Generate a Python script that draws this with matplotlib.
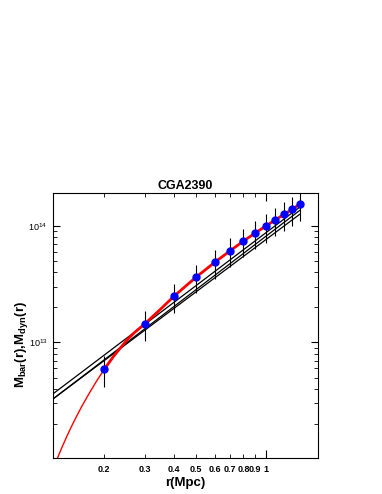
import numpy as np
import matplotlib
matplotlib.use("Agg")
import matplotlib.pyplot as plt

plt.rcParams['font.family'] = ['Liberation Sans', 'DejaVu Sans']
plt.rcParams['mathtext.fontset'] = 'custom'
plt.rcParams['mathtext.rm'] = 'Liberation Sans:bold'
plt.rcParams['mathtext.bf'] = 'Liberation Sans:bold'

# observed points
r_obs = [0.2, 0.3, 0.4, 0.5, 0.6, 0.7, 0.8, 0.9, 1.0, 1.1, 1.2, 1.3, 1.4]
m_obs = [5.89e12, 1.45e13, 2.49e13, 3.65e13, 4.87e13, 6.12e13, 7.43e13,
         8.71e13, 1.00e14, 1.13e14, 1.26e14, 1.39e14, 1.54e14]
m_err = [1.7e12, 4.1e12, 7.0e12, 1.0e13, 1.35e13, 1.7e13, 2.05e13,
         2.4e13, 2.8e13, 3.1e13, 3.5e13, 3.9e13, 4.3e13]

# red model curve
r_mod = [0.12, 0.124, 0.13, 0.138, 0.145, 0.152, 0.16, 0.174, 0.186, 0.2,
         0.22, 0.25, 0.27, 0.3, 0.35, 0.4, 0.45, 0.5, 0.6, 0.7, 0.8, 0.9,
         1.0, 1.1, 1.2, 1.3, 1.4]
m_mod = [0.817e12, 0.962e12, 1.205e12, 1.578e12, 1.941e12, 2.339e12,
         2.838e12, 3.80e12, 4.72e12, 5.89e12, 7.67e12, 1.045e13, 1.216e13,
         1.45e13, 1.93e13, 2.49e13, 3.05e13, 3.65e13, 4.87e13, 6.12e13,
         7.43e13, 8.71e13, 1.00e14, 1.13e14, 1.26e14, 1.39e14, 1.54e14]

# black power-law lines
r_lin = [0.11, 1.4]
m_lin1 = [3.18e12, 1.45e14]
m_lin2 = [2.87e12, 1.36e14]
m_lin3 = [2.88e12, 1.26e14]

xt_minor = [0.2, 0.3, 0.4, 0.5, 0.6, 0.7, 0.8, 0.9]
xt_minor_lab = ['0.2', '0.3', '0.4', '0.5', '0.6', '0.7', '0.8', '0.9']

fig = plt.figure(figsize=(3.82, 4.94), dpi=100)
ax = fig.add_axes([0.1387, 0.0729, 0.6937, 0.5364])

for m in (m_lin1, m_lin2, m_lin3):
    ax.plot(r_lin, m, color='black', lw=0.9, zorder=2)

ax.plot(r_mod, m_mod, color='red', lw=1.0, zorder=3)
i0 = r_mod.index(0.2)
ax.plot(r_mod[i0:], m_mod[i0:], color='red', lw=2.0, zorder=3)

ax.errorbar(r_obs, m_obs, yerr=m_err, fmt='o', color='blue', ms=5,
            ecolor='black', elinewidth=0.8, capsize=0, zorder=4)

ax.set_xscale('log')
ax.set_yscale('log')
ax.set_xlim(0.12, 1.68)
ax.set_ylim(1.02e12, 1.92e14)

ax.set_xticks([1])
ax.set_xticklabels(['1'])
ax.set_xticks(xt_minor, minor=True)
ax.set_xticklabels(xt_minor_lab, minor=True)

ax.tick_params(axis='both', which='both', direction='in', top=True, right=True,
               labelsize=6.5)
ax.tick_params(axis='x', which='major', length=6, width=0.8, pad=5)
ax.tick_params(axis='x', which='minor', length=3, width=0.6, pad=5)
ax.tick_params(axis='y', which='major', length=5, width=0.8, pad=4)
ax.tick_params(axis='y', which='minor', length=3, width=0.6)
for lab in ax.get_xticklabels(which='both'):
    lab.set_fontweight('bold')

for s in ax.spines.values():
    s.set_linewidth(0.8)

ax.set_title('CGA2390', fontsize=9, fontweight='bold', pad=3)
ax.set_xlabel('r(Mpc)', fontsize=9.5, fontweight='bold')
ax.xaxis.set_label_coords(0.5, -0.07)
ax.set_ylabel(r'M$_{\rm bar}$(r),M$_{\rm dyn}$(r)', fontsize=9.5, fontweight='bold')
ax.yaxis.set_label_coords(-0.087, 0.43)

fig.savefig('out.png', dpi=100)
